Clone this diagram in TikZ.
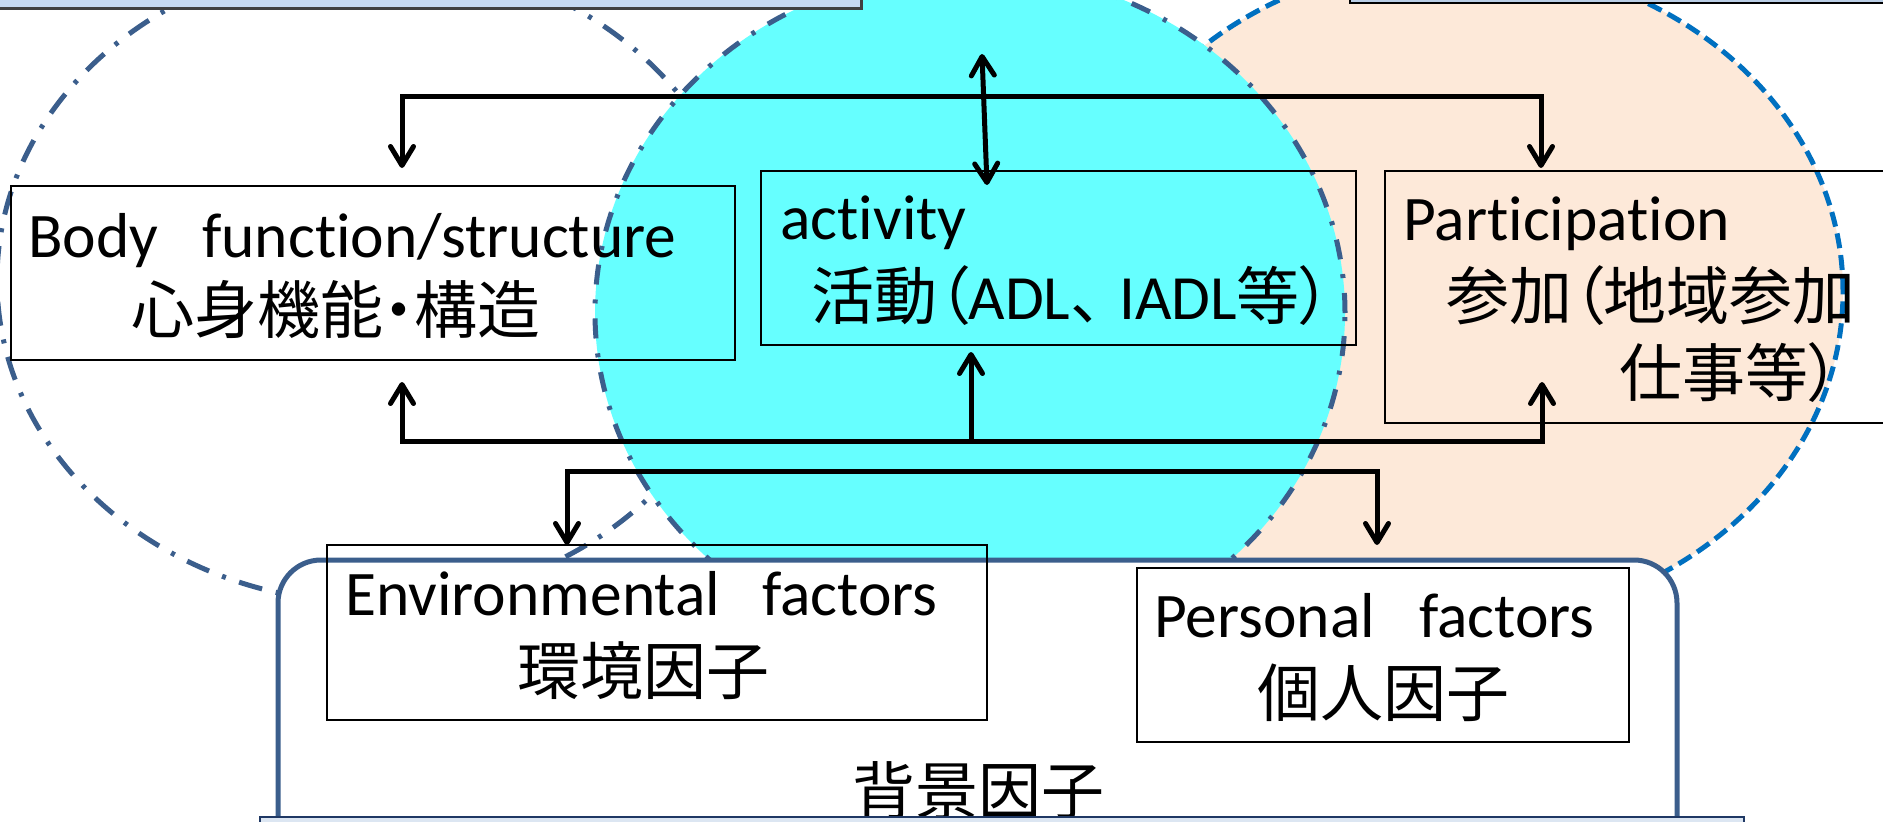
\documentclass[tikz,border=0pt]{standalone}
\usepackage{fontspec}
\setmainfont{Carlito}[Ligatures={NoCommon}]
\newfontfamily\jpfont{Noto Sans CJK JP}
\newfontfamily\jpprop{Noto Sans CJK JP}[RawFeature=+palt]
\newfontfamily\latinfont{Carlito}[Ligatures={NoCommon}]
\usetikzlibrary{arrows.meta}
\definecolor{cyanfill}{RGB}{102,255,255}
\definecolor{peachfill}{RGB}{253,233,217}
\definecolor{darkblue}{RGB}{59,94,140}
\definecolor{midblue}{RGB}{0,112,192}
\definecolor{lightbox}{RGB}{198,217,241}
\definecolor{graybox}{RGB}{185,205,229}
\definecolor{navy}{RGB}{31,56,100}
\definecolor{bottomfill}{RGB}{220,230,242}
\newcommand{\pl}[1]{{\jpprop #1}}
\newcommand{\lt}[1]{{\latinfont #1}}
\tikzset{
  ellLeft/.style={draw=darkblue, line width=5pt, dash pattern=on 24pt off 14pt on 4pt off 14pt},
  ellCyan/.style={draw=darkblue, fill=cyanfill, line width=5pt, dash pattern=on 20pt off 15pt on 4pt off 15pt},
  ellPeach/.style={draw=midblue, fill=peachfill, line width=5pt, dash pattern=on 15pt off 7pt},
  bgbox/.style={draw=darkblue, fill=white, line width=5pt, rounded corners=43pt},
  box/.style={draw=black, line width=2.5pt, inner sep=0pt, outer sep=0pt},
  lat/.style={font=\fontsize{63.5}{70}\selectfont, inner sep=0pt, anchor=base west},
  jp/.style={font=\jpfont\fontsize{63}{70}\selectfont, inner sep=0pt, anchor=base west},
  conn/.style={line width=5pt, line join=miter},
  >={Straight Barb[length=19pt, width=23pt, line cap=round, line join=round]}
}
\begin{document}
\begin{tikzpicture}[x=1pt,y=-1pt]
\useasboundingbox (0,0) rectangle (1883,822);
\clip (0,0) rectangle (1883,822);
\fill[white] (0,0) rectangle (1883,822);
% ellipses
\draw[ellLeft] (372,280) ellipse [x radius=375pt, y radius=323pt];
\draw[ellPeach] (1460,292) ellipse [x radius=383pt, y radius=331pt];
\draw[ellCyan] (970,313) ellipse [x radius=375pt, y radius=343pt];
% background factors frame
\draw[bgbox] (278,560) rectangle (1677,900);
\node[jp] (bgtext) at (852,814) {背景因子};
% boxes
\node[box, minimum width=724pt, minimum height=174pt] (body) at (373,273) {};
\node[box, minimum width=595pt, minimum height=174pt] (act) at (1058.5,258) {};
\node[box, minimum width=565pt, minimum height=252pt] (part) at (1667.5,297) {};
\node[box, minimum width=660pt, minimum height=175pt] (env) at (657,632.5) {};
\node[box, minimum width=492pt, minimum height=174pt] (pers) at (1383,655) {};
% texts
\node[lat] (bodyen) at (28,257) {Body\hspace{44pt}function/structure};
\node[jp] (bodyjp) at (131,333) {心身機能\pl{・}構造};
\node[lat] (acten) at (780,239) {activity};
\node[jp] (actjp) at (811,319) {活動\pl{（}\lt{ADL}、\kern-14pt\lt{IADL}等\pl{）}};
\node[lat] (parten) at (1403,240) {Participation};
\node[jp] (partjpa) at (1446,319) {参加\pl{（}地域参加};
\node[jp] (partjpb) at (1619,396) {仕事等\pl{）}};
\node[lat] (envn) at (345,615) {Environmental\hspace{42pt}factors};
\node[jp] (envjp) at (517,694) {環境因子};
\node[lat] (persen) at (1154,637) {Personal\hspace{44pt}factors};
\node[jp] (persjp) at (1257,716) {個人因子};
% connector coordinates
\coordinate (tA) at (402,168);
\coordinate (tB) at (402,96);
\coordinate (tC) at (1541,96);
\coordinate (tD) at (1541,168);
\coordinate (dA) at (982,54);
\coordinate (dB) at (987,185);
\coordinate (bA) at (402,382);
\coordinate (bB) at (402,441);
\coordinate (bC) at (1542,441);
\coordinate (bD) at (1542,382);
\coordinate (bM) at (971,441);
\coordinate (bT) at (971,352);
\coordinate (eA) at (567,545);
\coordinate (eB) at (567,471);
\coordinate (eC) at (1377,471);
\coordinate (eD) at (1377,545);
% connectors
\draw[conn,<->] (tA) -- (tB) -- (tC) -- (tD);
\draw[conn,<->] (dA) -- (dB);
\draw[conn,<->] (bA) -- (bB) -- (bC) -- (bD);
\draw[conn,->] (bM) -- (bT);
\draw[conn,<->] (eA) -- (eB) -- (eC) -- (eD);
% top and bottom partial boxes
\draw[fill=lightbox, draw=black!75, line width=3pt] (-10,-50) rectangle (861,8);
\draw[fill=graybox, draw=black, line width=2.5pt] (1350,-50) rectangle (1950,3);
\draw[fill=bottomfill, draw=navy, line width=2.5pt] (260,817) rectangle (1744,900);
\end{tikzpicture}
\end{document}
